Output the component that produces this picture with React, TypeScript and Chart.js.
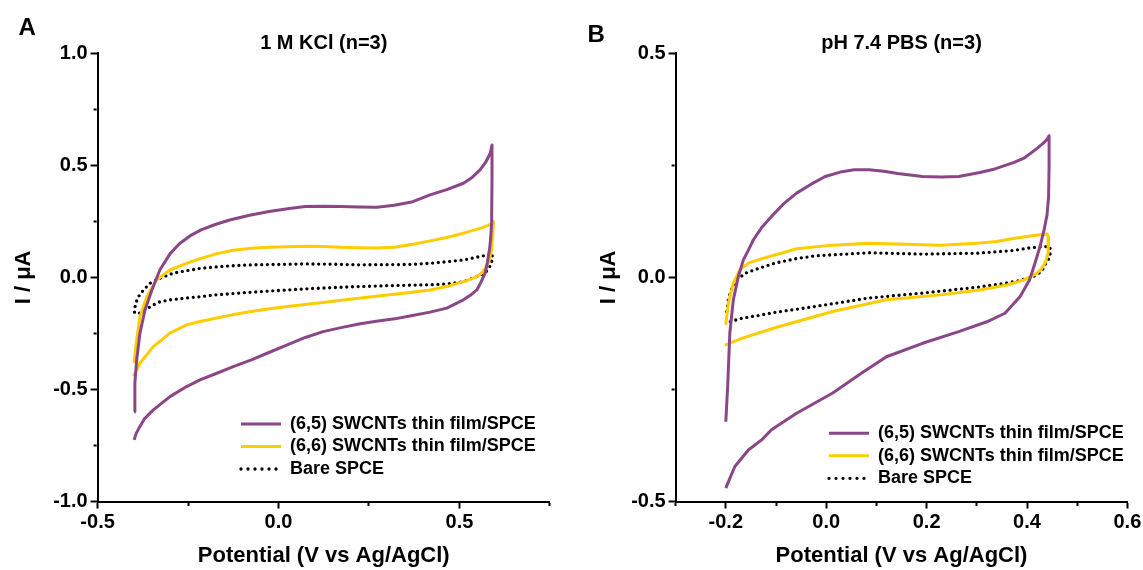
import React, { useEffect, useRef } from 'react';
import { Chart, registerables } from 'chart.js';

Chart.register(...registerables);

const FONT = "'Liberation Sans', Arial, Helvetica, sans-serif";
const PURPLE = '#8B4688';
const YELLOW = '#FFCC00';
const BLACK = '#000000';

const seriesLabels = ['(6,5) SWCNTs thin film/SPCE', '(6,6) SWCNTs thin film/SPCE', 'Bare SPCE'];

// ---------- Panel A: 1 M KCl ----------
const kclPotential65 = [
  -0.399, -0.397, -0.392, -0.383, -0.369, -0.350, -0.328, -0.300, -0.274, -0.245, -0.214, -0.175, -0.135, -0.080, -0.026,
  0.025, 0.074, 0.125, 0.173, 0.222, 0.272, 0.320, 0.371, 0.419, 0.465, 0.511, 0.535, 0.557, 0.573, 0.585, 0.590,
  0.590, 0.589, 0.586, 0.583, 0.577, 0.571, 0.560, 0.548, 0.530, 0.511, 0.465, 0.419, 0.370, 0.321, 0.270, 0.222,
  0.173, 0.123, 0.074, 0.024, -0.025, -0.075, -0.125, -0.174, -0.217, -0.254, -0.300, -0.346, -0.370, -0.383, -0.393, -0.399,
];
const kclCurrent65 = [
  -0.599, -0.472, -0.368, -0.249, -0.145, -0.056, 0.033, 0.105, 0.150, 0.185, 0.212, 0.236, 0.256, 0.277, 0.294,
  0.306, 0.316, 0.318, 0.316, 0.314, 0.313, 0.322, 0.338, 0.368, 0.392, 0.420, 0.446, 0.480, 0.515, 0.554, 0.591,
  0.450, 0.242, 0.170, 0.123, 0.065, 0.019, -0.020, -0.056, -0.080, -0.100, -0.137, -0.155, -0.170, -0.185, -0.196, -0.208,
  -0.224, -0.242, -0.268, -0.301, -0.334, -0.368, -0.398, -0.430, -0.457, -0.487, -0.532, -0.591, -0.630, -0.665, -0.695, -0.725,
];
const kclPotential66 = [
  -0.399, -0.396, -0.392, -0.383, -0.364, -0.337, -0.300, -0.254, -0.214, -0.170, -0.125, -0.075, -0.026, 0.025,
  0.074, 0.125, 0.173, 0.222, 0.272, 0.320, 0.371, 0.419, 0.465, 0.511, 0.557, 0.580, 0.594,
  0.592, 0.589, 0.582, 0.575, 0.562, 0.548, 0.530, 0.511, 0.465, 0.419, 0.370, 0.320, 0.270, 0.222,
  0.173, 0.123, 0.074, 0.024, -0.025, -0.075, -0.125, -0.174, -0.217, -0.254, -0.300, -0.346, -0.383, -0.401,
];
const kclCurrent66 = [
  -0.383, -0.330, -0.279, -0.175, -0.086, -0.011, 0.033, 0.063, 0.085, 0.106, 0.121, 0.130, 0.134, 0.137,
  0.139, 0.138, 0.134, 0.132, 0.131, 0.135, 0.148, 0.163, 0.178, 0.197, 0.219, 0.232, 0.249,
  0.190, 0.123, 0.075, 0.048, 0.020, 0.004, -0.009, -0.019, -0.041, -0.056, -0.066, -0.075, -0.084, -0.093,
  -0.102, -0.112, -0.121, -0.130, -0.140, -0.152, -0.166, -0.182, -0.197, -0.212, -0.249, -0.309, -0.383, -0.442,
];
const kclPotentialBare = [
  -0.398, -0.396, -0.392, -0.387, -0.373, -0.355, -0.328, -0.291, -0.254, -0.214, -0.150, -0.075,
  0.000, 0.074, 0.150, 0.222, 0.300, 0.371, 0.419, 0.465, 0.511, 0.557, 0.580, 0.589,
  0.592, 0.585, 0.571, 0.548, 0.511, 0.465, 0.419, 0.321, 0.200, 0.100, 0.024,
  -0.075, -0.174, -0.217, -0.260, -0.300, -0.330, -0.346, -0.369, -0.382, -0.392,
];
const kclCurrentBare = [
  -0.155, -0.125, -0.105, -0.086, -0.056, -0.026, -0.004, 0.019, 0.030, 0.041, 0.050, 0.056,
  0.058, 0.060, 0.059, 0.056, 0.057, 0.058, 0.063, 0.070, 0.078, 0.093, 0.101, 0.108,
  0.086, 0.051, 0.019, 0.004, -0.019, -0.029, -0.033, -0.036, -0.042, -0.049, -0.056,
  -0.066, -0.078, -0.086, -0.093, -0.100, -0.110, -0.123, -0.145, -0.157, -0.167,
];

// ---------- Panel B: pH 7.4 PBS ----------
const pbsPotential65 = [
  -0.200, -0.198, -0.196, -0.192, -0.185, -0.175, -0.165, -0.155, -0.145, -0.128, -0.109, -0.085, -0.059, -0.030, -0.002, 0.028,
  0.056, 0.085, 0.115, 0.142, 0.192, 0.230, 0.264, 0.306, 0.336, 0.373, 0.394, 0.406, 0.420, 0.432, 0.440, 0.444,
  0.444, 0.443, 0.440, 0.434, 0.426, 0.416, 0.405, 0.386, 0.356, 0.320, 0.264,
  0.192, 0.120, 0.070, 0.013, -0.059, -0.109, -0.128, -0.155, -0.182, -0.200,
];
const pbsCurrent65 = [
  -0.322, -0.280, -0.236, -0.124, -0.050, 0.002, 0.039, 0.061, 0.084, 0.112, 0.136, 0.164, 0.188, 0.208, 0.225, 0.235,
  0.240, 0.240, 0.237, 0.232, 0.225, 0.224, 0.225, 0.234, 0.242, 0.256, 0.266, 0.276, 0.288, 0.299, 0.308, 0.316,
  0.250, 0.180, 0.140, 0.106, 0.069, 0.032, -0.006, -0.043, -0.080, -0.099, -0.121,
  -0.147, -0.177, -0.214, -0.258, -0.303, -0.340, -0.362, -0.385, -0.422, -0.470,
];
const pbsPotential66 = [
  -0.200, -0.195, -0.185, -0.172, -0.155, -0.128, -0.102, -0.059, 0.013, 0.085, 0.157, 0.228, 0.300, 0.340, 0.373, 0.410, 0.440,
  0.443, 0.442, 0.436, 0.428, 0.419, 0.405, 0.393, 0.360, 0.306, 0.228, 0.120, 0.013, -0.095, -0.135, -0.168, -0.202,
];
const pbsCurrent66 = [
  -0.106, -0.058, -0.013, 0.017, 0.032, 0.042, 0.050, 0.064, 0.072, 0.076, 0.074, 0.072, 0.076, 0.080, 0.087, 0.093, 0.097,
  0.090, 0.054, 0.032, 0.018, 0.009, 0.000, -0.006, -0.017, -0.028, -0.039, -0.050, -0.076, -0.110, -0.124, -0.136, -0.151,
];
const pbsPotentialBare = [
  -0.198, -0.195, -0.188, -0.178, -0.162, -0.135, -0.102, -0.059, -0.023, 0.085, 0.192, 0.300, 0.373, 0.406, 0.439, 0.446,
  0.446, 0.439, 0.429, 0.413, 0.386, 0.346, 0.300, 0.192, 0.085, -0.023, -0.102, -0.135, -0.168, -0.192,
];
const pbsCurrentBare = [
  -0.076, -0.050, -0.024, -0.006, 0.009, 0.020, 0.032, 0.042, 0.048, 0.055, 0.052, 0.054, 0.060, 0.066, 0.069, 0.068,
  0.046, 0.035, 0.013, 0.002, -0.007, -0.015, -0.022, -0.035, -0.046, -0.065, -0.078, -0.085, -0.091, -0.099,
];

const zip = (xs: number[], ys: number[]) => xs.map((x, i) => ({ x, y: ys[i] }));

const isMajor = (v: number, step: number) => Math.abs(v / step - Math.round(v / step)) < 1e-6;

type PanelSpec = {
  title: string;
  canvasWidth: number;
  yAxisWidth: number;
  padRight: number;
  yTitlePad: number;
  xMin: number; xMax: number; xStep: number; xMajor: number;
  yMin: number; yMax: number; yStep: number; yMajor: number;
  legendLeft: number; legendRowCenter: number;
  series: { x: number[]; y: number[] }[];
};

const CANVAS_H = 570;
const X_AXIS_H = 68.5;
const LEG_FONT = 18;
const LEG_PAD = 4.5;

function Panel({ spec }: { spec: PanelSpec }) {
  const ref = useRef<HTMLCanvasElement | null>(null);
  useEffect(() => {
    if (!ref.current) return;
    const colors = [PURPLE, YELLOW, BLACK];
    const datasets = spec.series.map((s, i) => ({
      label: seriesLabels[i],
      data: zip(s.x, s.y),
      showLine: true,
      borderColor: colors[i],
      backgroundColor: colors[i],
      borderWidth: i === 2 ? 3.3 : 3,
      borderDash: i === 2 ? [0, 5.7] : [],
      borderCapStyle: i === 2 ? 'round' : 'butt',
      borderJoinStyle: 'round',
      pointRadius: 0,
      pointHoverRadius: 0,
      tension: 0,
      fill: false,
    }));
    const placer = {
      id: 'legendPlacer',
      afterLayout(chart: any) {
        const lg = chart.legend;
        if (!lg) return;
        // first row text centre = top + 2*pad + font/2
        lg.left = spec.legendLeft - LEG_PAD;
        lg.top = spec.legendRowCenter - LEG_FONT / 2 - LEG_PAD;
        lg.right = lg.left + 400;
        lg.bottom = lg.top + 200;
      },
    };
    const tickFont = { family: FONT, size: 20, weight: 'bold' as const };
    const chart = new Chart(ref.current, {
      type: 'scatter',
      data: { datasets: datasets as any },
      plugins: [placer],
      options: {
        responsive: false,
        animation: false,
        events: [],
        layout: { padding: { left: 0, right: spec.padRight, top: 0, bottom: 0 } },
        plugins: {
          tooltip: { enabled: false },
          title: {
            display: true,
            text: spec.title,
            fullSize: false,
            color: '#000',
            font: { family: FONT, size: 20, weight: 'bold', lineHeight: 1 },
            padding: { top: 33.3, bottom: 0 },
          },
          legend: {
            display: true,
            position: 'chartArea',
            align: 'start',
            labels: {
              usePointStyle: true,
              pointStyle: 'line',
              pointStyleWidth: 40,
              boxWidth: 40,
              padding: LEG_PAD,
              color: '#000',
              font: { family: FONT, size: LEG_FONT, weight: 'bold' },
              generateLabels: (c: any) =>
                c.data.datasets.map((ds: any, i: number) => ({
                  text: ds.label,
                  fillStyle: ds.borderColor,
                  strokeStyle: ds.borderColor,
                  lineWidth: ds.borderWidth,
                  lineDash: i === 2 ? [0, 7] : ds.borderDash,
                  lineCap: ds.borderCapStyle,
                  pointStyle: 'line',
                  hidden: false,
                  datasetIndex: i,
                  fontColor: '#000',
                })),
            },
          },
        },
        scales: {
          x: {
            type: 'linear',
            position: 'bottom',
            min: spec.xMin,
            max: spec.xMax,
            afterFit: (s: any) => { s.height = X_AXIS_H; },
            border: { display: true, color: '#000', width: 2 },
            grid: {
              drawOnChartArea: false,
              drawTicks: true,
              tickLength: 7,
              tickWidth: 2,
              tickColor: '#000',
              tickBorderDash: (c: any) => (c.tick && isMajor(c.tick.value, spec.xMajor) ? [] : [3, 100]),
            },
            ticks: {
              stepSize: spec.xStep,
              autoSkip: false,
              maxRotation: 0,
              padding: 1.5,
              color: '#000',
              font: tickFont,
              callback: (v: any) => (isMajor(Number(v), spec.xMajor) ? Number(v).toFixed(1) : ''),
            },
            title: {
              display: true,
              text: 'Potential (V vs Ag/AgCl)',
              color: '#000',
              font: { family: FONT, size: 22, weight: 'bold' },
              padding: { top: 0, bottom: 0.8 },
            },
          },
          y: {
            type: 'linear',
            position: 'left',
            min: spec.yMin,
            max: spec.yMax,
            afterFit: (s: any) => { s.width = spec.yAxisWidth; },
            border: { display: true, color: '#000', width: 2 },
            grid: {
              drawOnChartArea: false,
              drawTicks: true,
              tickLength: 7,
              tickWidth: 2,
              tickColor: '#000',
              tickBorderDash: (c: any) => (c.tick && isMajor(c.tick.value, spec.yMajor) ? [] : [0, 3, 3, 100]),
            },
            ticks: {
              stepSize: spec.yStep,
              autoSkip: false,
              padding: 3,
              color: '#000',
              font: tickFont,
              callback: (v: any) => (isMajor(Number(v), spec.yMajor) ? Number(v).toFixed(1) : ''),
            },
            title: {
              display: true,
              text: 'I / μA',
              color: '#000',
              font: { family: FONT, size: 22, weight: 'bold' },
              padding: { top: spec.yTitlePad, bottom: 0 },
            },
          },
        },
      } as any,
    });
    return () => chart.destroy();
  }, [spec]);
  return <canvas ref={ref} width={spec.canvasWidth} height={CANVAS_H} style={{ display: 'block' }} />;
}

const panelA: PanelSpec = {
  title: '1 M KCl (n=3)',
  canvasWidth: 572,
  yAxisWidth: 97.6,
  padRight: 22.1,
  yTitlePad: 10.8,
  xMin: -0.5, xMax: 0.75, xStep: 0.25, xMajor: 0.5,
  yMin: -1, yMax: 1, yStep: 0.25, yMajor: 0.5,
  legendLeft: 241,
  legendRowCenter: 424,
  series: [
    { x: kclPotential65, y: kclCurrent65 },
    { x: kclPotential66, y: kclCurrent66 },
    { x: kclPotentialBare, y: kclCurrentBare },
  ],
};

const panelB: PanelSpec = {
  title: 'pH 7.4 PBS (n=3)',
  canvasWidth: 571,
  yAxisWidth: 103.6,
  padRight: 15.6,
  yTitlePad: 23.8,
  xMin: -0.3, xMax: 0.6, xStep: 0.1, xMajor: 0.2,
  yMin: -0.5, yMax: 0.5, yStep: 0.25, yMajor: 0.5,
  legendLeft: 829 - 572,
  legendRowCenter: 433.3,
  series: [
    { x: pbsPotential65, y: pbsCurrent65 },
    { x: pbsPotential66, y: pbsCurrent66 },
    { x: pbsPotentialBare, y: pbsCurrentBare },
  ],
};

const panelLetter: React.CSSProperties = {
  position: 'absolute',
  fontFamily: FONT,
  fontWeight: 'bold',
  fontSize: 24,
  lineHeight: '24px',
  color: '#000',
};

export default function App() {
  return (
    <div style={{ position: 'absolute', left: 0, top: 0, width: 1143, height: 570, background: '#fff', overflow: 'hidden' }}>
      <div style={{ position: 'absolute', left: 0, top: 0 }}>
        <Panel spec={panelA} />
      </div>
      <div style={{ position: 'absolute', left: 572, top: 0 }}>
        <Panel spec={panelB} />
      </div>
      <div style={{ ...panelLetter, left: 18.5, top: 14.8 }}>A</div>
      <div style={{ ...panelLetter, left: 587.5, top: 21.8 }}>B</div>
    </div>
  );
}
